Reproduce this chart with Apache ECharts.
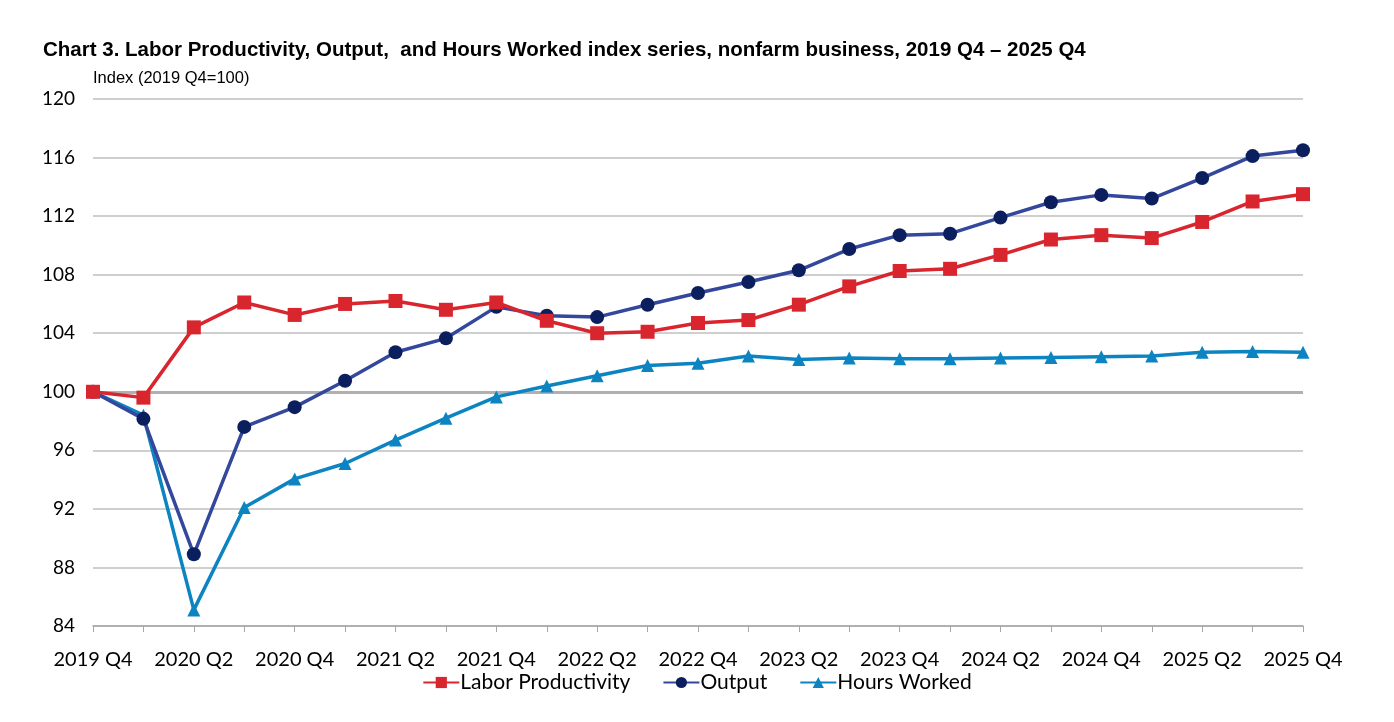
<!DOCTYPE html>
<html>
<head>
<meta charset="utf-8">
<script src="https://cdn.jsdelivr.net/npm/echarts@6/dist/echarts.min.js"></script>
<style>html,body{margin:0;padding:0;background:#fff;}#c{width:1394px;height:722px;}</style>
</head>
<body>
<div id="c"></div>
<script>
const categories = ['2019 Q4','2020 Q1','2020 Q2','2020 Q3','2020 Q4','2021 Q1','2021 Q2','2021 Q3','2021 Q4','2022 Q1','2022 Q2','2022 Q3','2022 Q4','2023 Q1','2023 Q2','2023 Q3','2023 Q4','2024 Q1','2024 Q2','2024 Q3','2024 Q4','2025 Q1','2025 Q2','2025 Q3','2025 Q4'];
const laborProductivity = [100.0,99.6,104.4,106.1,105.25,106.0,106.2,105.6,106.1,104.85,104.0,104.1,104.7,104.9,105.95,107.2,108.25,108.4,109.35,110.4,110.7,110.5,111.6,113.0,113.5];
const output = [100.0,98.15,88.9,97.6,98.95,100.75,102.7,103.65,105.8,105.2,105.1,105.95,106.75,107.5,108.3,109.75,110.7,110.8,111.9,112.95,113.45,113.2,114.6,116.1,116.5];
const hoursWorked = [100.0,98.4,85.1,92.1,94.05,95.1,96.7,98.2,99.65,100.4,101.1,101.8,101.95,102.45,102.2,102.3,102.25,102.25,102.3,102.35,102.4,102.45,102.7,102.75,102.7];
const yTicks = {min: 84, max: 120, interval: 4};

const chart = echarts.init(document.getElementById('c'));
const labelFont = 'Lato, "Open Sans", sans-serif';
chart.setOption({
  animation: false,
  title: [
    {text: 'Chart 3. Labor Productivity, Output,  and Hours Worked index series, nonfarm business, 2019 Q4 \u2013 2025 Q4',
     left: 38, top: 35, textStyle: {fontFamily: '"Liberation Sans", Arial, sans-serif', fontWeight: 'bold', fontSize: 20.5, color: '#000'}},
    {text: 'Index (2019 Q4=100)', left: 88, top: 65, textStyle: {fontFamily: '"Liberation Sans", Arial, sans-serif', fontWeight: 'normal', fontSize: 16.5, color: '#000'}}
  ],
  grid: {left: 93, right: 91, top: 99, bottom: 96, containLabel: false},
  legend: {
    bottom: 24, left: 'center', itemGap: 32, itemWidth: 36, itemHeight: 14,
    textStyle: {fontFamily: labelFont, fontSize: 21, color: '#000', padding: [0,0,0,-4]},
    data: ['Labor Productivity','Output','Hours Worked']
  },
  xAxis: {
    type: 'category', data: categories, boundaryGap: false,
    axisLine: {lineStyle: {color: '#a6a6a6', width: 1.5}},
    axisTick: {show: true, interval: 0, length: 6, lineStyle: {color: '#a6a6a6'}},
    axisLabel: {interval: 1, margin: 24, fontFamily: labelFont, fontSize: 20, color: '#000'}
  },
  yAxis: {
    type: 'value', min: yTicks.min, max: yTicks.max, interval: yTicks.interval,
    axisLine: {show: false}, axisTick: {show: false},
    axisLabel: {margin: 18, fontFamily: labelFont, fontSize: 19, color: '#000'},
    splitLine: {lineStyle: {color: '#bfbfbf', width: 1.5}}
  },
  series: [
    {name: 'Hours Worked', type: 'line', data: hoursWorked, symbol: 'triangle', symbolSize: 13,
     lineStyle: {color: '#0d84c2', width: 3.5}, itemStyle: {color: '#0d84c2'}, z: 3,
     markLine: {silent: true, symbol: 'none', label: {show: false}, lineStyle: {color: '#b0b0b0', width: 3, type: 'solid'},
                data: [{yAxis: 100}], z: 1}},
    {name: 'Output', type: 'line', data: output, symbol: 'circle', symbolSize: 14,
     lineStyle: {color: '#33479c', width: 3.5}, itemStyle: {color: '#0b1f5e'}, z: 4},
    {name: 'Labor Productivity', type: 'line', data: laborProductivity, symbol: 'rect', symbolSize: 14,
     lineStyle: {color: '#d9262e', width: 3.5}, itemStyle: {color: '#d9262e'}, z: 5}
  ]
});
</script>
</body>
</html>
